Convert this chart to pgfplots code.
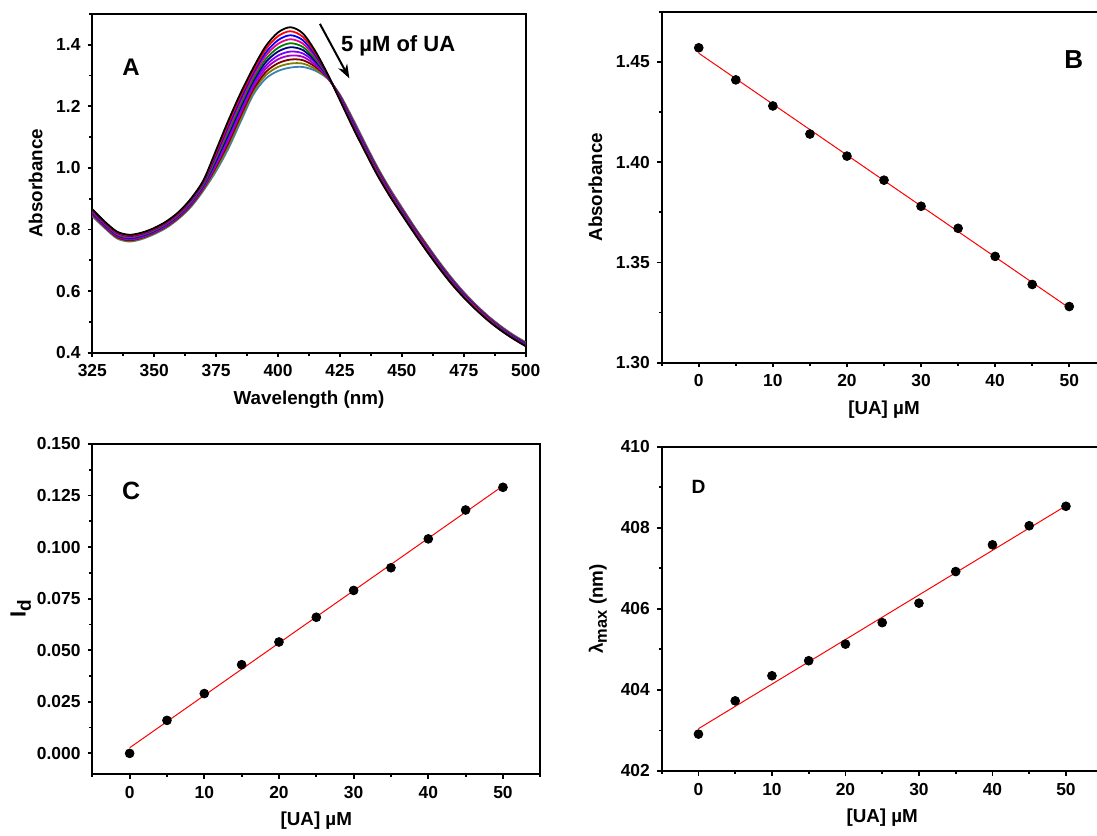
\documentclass[border=0pt]{standalone}
\usepackage{fontspec}
\setmainfont{Liberation Sans}
\usepackage{pgfplots}
\pgfplotsset{compat=1.18}
\usepackage{pgfplotstable}
\usetikzlibrary{arrows.meta}

\definecolor{cgreen}{RGB}{0,128,0}
\definecolor{cnavy}{RGB}{0,0,128}
\definecolor{cviolet}{RGB}{128,0,255}
\definecolor{cpurple}{RGB}{170,0,200}
\definecolor{cwine}{RGB}{128,0,0}
\definecolor{cdyellow}{RGB}{128,128,0}
\definecolor{csteel}{RGB}{60,130,185}

\pgfplotstableread{
wl c0 c1 c2 c3 c4 c5 c6 c7 c8 c9 c10
325 0.866 0.864 0.861 0.859 0.857 0.854 0.852 0.850 0.848 0.845 0.843
330 0.826 0.824 0.822 0.820 0.818 0.816 0.813 0.811 0.809 0.807 0.805
335 0.793 0.791 0.789 0.786 0.784 0.782 0.780 0.778 0.775 0.773 0.771
340 0.783 0.781 0.779 0.776 0.774 0.772 0.770 0.768 0.765 0.763 0.761
345 0.790 0.788 0.786 0.784 0.782 0.780 0.777 0.775 0.773 0.771 0.769
350 0.805 0.803 0.801 0.799 0.797 0.795 0.793 0.791 0.789 0.787 0.785
355 0.827 0.825 0.823 0.821 0.819 0.817 0.814 0.812 0.810 0.808 0.806
360 0.858 0.856 0.854 0.851 0.849 0.847 0.845 0.843 0.840 0.838 0.836
365 0.902 0.900 0.897 0.894 0.891 0.889 0.886 0.883 0.880 0.878 0.875
370 0.962 0.959 0.955 0.952 0.948 0.945 0.942 0.938 0.935 0.931 0.928
375 1.058 1.051 1.044 1.038 1.031 1.024 1.017 1.010 1.004 0.997 0.990
380 1.155 1.146 1.137 1.128 1.119 1.110 1.100 1.091 1.082 1.073 1.064
385 1.245 1.236 1.226 1.217 1.208 1.199 1.189 1.180 1.171 1.161 1.152
390 1.325 1.316 1.308 1.299 1.290 1.282 1.273 1.264 1.255 1.247 1.238
395 1.395 1.385 1.374 1.364 1.353 1.343 1.332 1.322 1.311 1.301 1.290
400 1.440 1.428 1.415 1.403 1.390 1.378 1.365 1.353 1.340 1.328 1.315
405 1.457 1.444 1.431 1.418 1.405 1.392 1.378 1.365 1.352 1.339 1.326
410 1.437 1.426 1.415 1.404 1.393 1.383 1.372 1.361 1.350 1.339 1.328
415 1.380 1.374 1.367 1.361 1.354 1.348 1.342 1.335 1.329 1.322 1.316
420 1.305 1.304 1.302 1.301 1.299 1.298 1.296 1.295 1.293 1.292 1.290
425 1.220 1.222 1.224 1.225 1.227 1.229 1.231 1.233 1.234 1.236 1.238
430 1.135 1.138 1.141 1.143 1.146 1.149 1.152 1.155 1.157 1.160 1.163
435 1.055 1.058 1.061 1.063 1.066 1.069 1.072 1.075 1.077 1.080 1.083
440 0.978 0.981 0.983 0.986 0.989 0.992 0.994 0.997 1.000 1.002 1.005
445 0.910 0.913 0.915 0.918 0.920 0.923 0.925 0.928 0.930 0.933 0.935
450 0.848 0.850 0.853 0.855 0.858 0.860 0.862 0.865 0.867 0.870 0.872
455 0.788 0.790 0.792 0.795 0.797 0.799 0.801 0.803 0.806 0.808 0.810
460 0.730 0.732 0.734 0.737 0.739 0.741 0.743 0.745 0.748 0.750 0.752
465 0.675 0.677 0.679 0.681 0.683 0.686 0.688 0.690 0.692 0.694 0.696
470 0.624 0.626 0.628 0.630 0.632 0.634 0.636 0.638 0.640 0.642 0.644
475 0.579 0.581 0.583 0.584 0.586 0.588 0.590 0.592 0.593 0.595 0.597
480 0.539 0.541 0.542 0.544 0.545 0.547 0.549 0.550 0.552 0.553 0.555
485 0.503 0.505 0.506 0.508 0.509 0.511 0.512 0.514 0.515 0.517 0.518
490 0.472 0.473 0.475 0.476 0.478 0.479 0.480 0.482 0.483 0.485 0.486
495 0.445 0.446 0.448 0.449 0.450 0.452 0.453 0.454 0.455 0.457 0.458
500 0.421 0.422 0.424 0.425 0.426 0.428 0.429 0.430 0.431 0.433 0.434
}\spectra

\pgfplotstableread{
x absB idC lamD
0  1.457 0.000 402.91
5  1.441 0.016 403.73
10 1.428 0.029 404.35
15 1.414 0.043 404.72
20 1.403 0.054 405.13
25 1.391 0.066 405.66
30 1.378 0.079 406.14
35 1.367 0.090 406.92
40 1.353 0.104 407.58
45 1.339 0.118 408.05
50 1.328 0.129 408.53
}\points

\pgfplotsset{
  panel/.style={
    scale only axis,
    anchor=south west,
    axis line style={line width=1pt},
    tick align=outside,
    tick pos=left,
    major tick length=2.4pt,
    minor tick length=1.5pt,
    every tick/.style={black, line width=0.9pt},
    tick label style={font=\fontsize{8.7}{10}\selectfont\bfseries},
    /pgf/number format/assume math mode=true,
    label style={font=\fontsize{9.4}{11}\selectfont\bfseries},
    scaled y ticks=false,
    scaled x ticks=false,
  },
  conc/.style={
    xmin=-5, xmax=55,
    xtick={0,10,20,30,40,50},
    minor xtick={-5,5,15,25,35,45,55},
    xlabel={[UA] µM},
  },
  dots/.style={only marks, mark=*, mark size=2.2pt, black},
  fit/.style={red, line width=0.5pt, no marks},
}

\begin{document}
\begin{tikzpicture}
\path[use as bounding box] (0,0) rectangle (548.5pt,417.5pt);

% Panel A
\begin{axis}[panel,
  at={(46.15pt,241.15pt)}, width=216.7pt, height=169.35pt,
  xmin=325, xmax=500, ymin=0.4, ymax=1.5,
  xtick={325,350,375,400,425,450,475,500},
  minor xtick={337.5,362.5,387.5,412.5,437.5,462.5,487.5},
  ytick={0.4,0.6,0.8,1.0,1.2,1.4},
  minor ytick={0.5,0.7,0.9,1.1,1.3,1.5},
  yticklabel style={/pgf/number format/.cd,fixed,fixed zerofill,precision=1},
  xlabel={Wavelength (nm)}, ylabel={Absorbance},
  every axis plot/.append style={line width=0.9pt, no marks, smooth},
]
\addplot[csteel]   table[x=wl,y=c10] {\spectra};
\addplot[cdyellow] table[x=wl,y=c9]  {\spectra};
\addplot[cwine]    table[x=wl,y=c8]  {\spectra};
\addplot[cpurple]  table[x=wl,y=c7]  {\spectra};
\addplot[cviolet]  table[x=wl,y=c6]  {\spectra};
\addplot[cnavy]    table[x=wl,y=c5]  {\spectra};
\addplot[cgreen]   table[x=wl,y=c4]  {\spectra};
\addplot[magenta]  table[x=wl,y=c3]  {\spectra};
\addplot[blue]     table[x=wl,y=c2]  {\spectra};
\addplot[red]      table[x=wl,y=c1]  {\spectra};
\addplot[black]    table[x=wl,y=c0]  {\spectra};
\node[font=\fontsize{12}{14}\selectfont\bfseries] at (axis cs:340.6,1.326) {A};
\node[font=\fontsize{11}{13}\selectfont\bfseries] at (axis cs:448.5,1.396) {5 µM of UA};
\draw[line width=1pt, -{Stealth[length=7pt,width=5pt]}] (axis cs:416.9,1.468) -- (axis cs:428.8,1.291);
\end{axis}

% Panel B
\begin{axis}[panel, conc,
  at={(330.85pt,236.15pt)}, width=222.3pt, height=175.5pt,
  ymin=1.30, ymax=1.475,
  ytick={1.30,1.35,1.40,1.45},
  minor ytick={1.325,1.375,1.425,1.475},
  yticklabel style={/pgf/number format/.cd,fixed,fixed zerofill,precision=2},
  ylabel={Absorbance},
]
\addplot[fit] coordinates {(0,1.4543) (50,1.3273)};
\addplot[dots] table[x=x,y=absB] {\points};
\node[font=\fontsize{13}{15}\selectfont\bfseries] at (axis cs:50.6,1.451) {B};
\end{axis}

% Panel C
\begin{axis}[panel, conc,
  at={(46.15pt,30.5pt)}, width=224pt, height=165pt,
  ymin=-0.01, ymax=0.15,
  ytick={0,0.025,0.05,0.075,0.1,0.125,0.15},
  minor ytick={0.0125,0.0375,0.0625,0.0875,0.1125,0.1375},
  yticklabel style={/pgf/number format/.cd,fixed,fixed zerofill,precision=3},
  ylabel={\fontsize{11}{13}\selectfont I\raisebox{-0.45ex}{\fontsize{9.5}{11}\selectfont d}},
  ylabel shift=-7pt,
  ylabel style={yshift=3pt},
]
\addplot[fit] coordinates {(0,0.0027) (50,0.1297)};
\addplot[dots] table[x=x,y=idC] {\points};
\node[font=\fontsize{12.5}{14}\selectfont\bfseries] at (axis cs:0.2,0.1274) {C};
\end{axis}

% Panel D
\begin{axis}[panel, conc,
  at={(330.85pt,32pt)}, width=220.5pt, height=162.15pt,
  ymin=402, ymax=410,
  ytick={402,404,406,408,410},
  minor ytick={403,405,407,409},
  ylabel={λ\raisebox{-0.4ex}{\fontsize{8.2}{10}\selectfont max} (nm)},
]
\addplot[fit] coordinates {(0,403.044) (50,408.542)};
\addplot[dots] table[x=x,y=lamD] {\points};
\node[font=\fontsize{9.6}{11}\selectfont\bfseries] at (axis cs:0,409.0) {D};
\end{axis}
\end{tikzpicture}
\end{document}
